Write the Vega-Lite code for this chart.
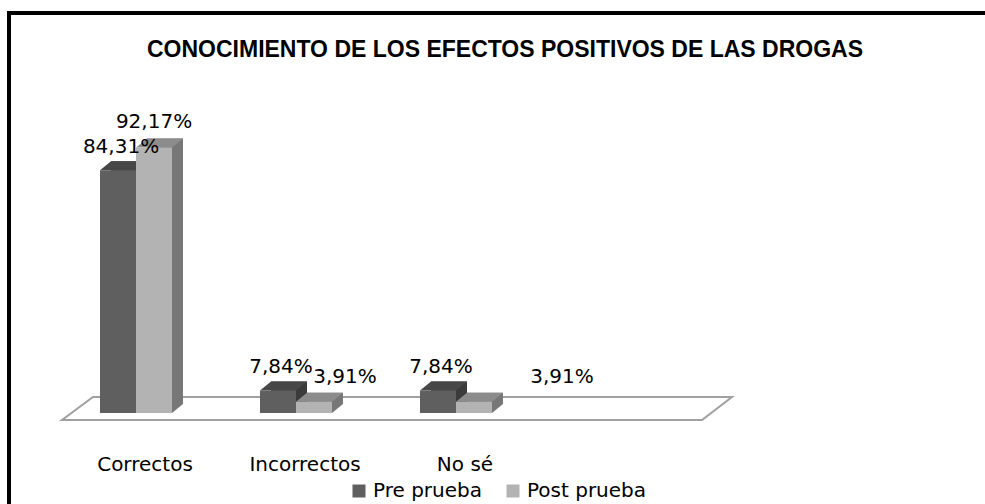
{
  "$schema": "https://vega.github.io/schema/vega-lite/v6.json",
  "width": 982,
  "height": 496,
  "autosize": {"type": "none"},
  "padding": {"left": 9, "top": 13, "right": -6, "bottom": -5},
  "background": "white",
  "config": {
    "view": {"stroke": "black", "strokeWidth": 4},
    "locale": {"number": {"decimal": ",", "thousands": ".", "grouping": [3], "currency": ["", " €"]}},
    "axisX": {
      "domain": false, "ticks": false, "tickSize": 0, "grid": false,
      "labelPadding": 0, "offset": -55, "labelOffset": 9,
      "labelFont": "DejaVu Sans", "labelFontSize": 20, "labelColor": "black", "labelAngle": 0
    }
  },
  "title": {
    "text": "CONOCIMIENTO DE LOS EFECTOS POSITIVOS DE LAS DROGAS",
    "font": "Liberation Sans", "fontSize": 23, "fontWeight": "bold", "color": "black",
    "anchor": "middle", "frame": "group", "baseline": "alphabetic", "offset": -67, "dx": 5
  },
  "data": {
    "values": [
      {"cat": "Correctos", "series": "Pre prueba", "value": 0.8431},
      {"cat": "Correctos", "series": "Post prueba", "value": 0.9217},
      {"cat": "Incorrectos", "series": "Pre prueba", "value": 0.0784},
      {"cat": "Incorrectos", "series": "Post prueba", "value": 0.0391},
      {"cat": "No sé", "series": "Pre prueba", "value": 0.0784},
      {"cat": "No sé", "series": "Post prueba", "value": 0.0391}
    ]
  },
  "resolve": {"scale": {"xOffset": "independent"}},
  "layer": [
    {
      "data": {"values": [{"elemento": "suelo"}]},
      "mark": {
        "type": "point", "shape": "M -0.5318 0.0159 L 0.9227 0.0159 L 0.9909 -0.0364 L -0.4614 -0.0364 Z",
        "size": 774400, "filled": true, "fill": "white", "stroke": "#a0a0a0", "strokeWidth": 2, "opacity": 1
      },
      "encoding": {
        "x": {"datum": "Incorrectos", "type": "nominal", "title": null},
        "y": {"datum": 0, "type": "quantitative", "axis": null}
      }
    },
    {
      "mark": {"type": "bar", "yOffset": -9},
      "encoding": {
        "x": {"field": "cat", "type": "nominal", "sort": ["Correctos", "Incorrectos", "No sé"], "title": null,
              "scale": {"range": [47, 527], "paddingInner": 0.55, "paddingOuter": 0.275}},
        "xOffset": {"field": "series", "type": "nominal", "scale": {"type": "band", "domain": ["Pre prueba", "Post prueba"], "range": [11, 83], "paddingInner": 0, "paddingOuter": 0}},
        "y": {"field": "value", "type": "quantitative", "scale": {"domain": [0, 1], "range": [400, 112], "nice": false}, "axis": null},
        "color": {"condition": {"test": "datum.series === 'Pre prueba'", "value": "#3b3b3b"}, "value": "#777777"}
      }
    },
    {
      "mark": {"type": "point", "shape": "M -0.5 0 L 0.5 0 L 0.8056 -0.25 L -0.1944 -0.25 Z", "size": 5184, "filled": true, "opacity": 1, "strokeWidth": 0},
      "encoding": {
        "x": {"field": "cat", "type": "nominal", "sort": ["Correctos", "Incorrectos", "No sé"], "title": null},
        "xOffset": {"field": "series", "type": "nominal", "scale": {"type": "point", "domain": ["Pre prueba", "Post prueba"], "range": [18, 54], "padding": 0}},
        "y": {"datum": 0, "type": "quantitative", "axis": null},
        "color": {"condition": {"test": "datum.series === 'Pre prueba'", "value": "#3b3b3b"}, "value": "#777777"}
      }
    },
    {
      "mark": {"type": "point", "shape": "M -0.5 0 L 0.5 0 L 0.8056 -0.25 L -0.1944 -0.25 Z", "size": 5184, "filled": true, "opacity": 1, "strokeWidth": 0},
      "encoding": {
        "x": {"field": "cat", "type": "nominal", "sort": ["Correctos", "Incorrectos", "No sé"], "title": null},
        "xOffset": {"field": "series", "type": "nominal", "scale": {"type": "point", "domain": ["Pre prueba", "Post prueba"], "range": [18, 54], "padding": 0}},
        "y": {"field": "value", "type": "quantitative", "axis": null},
        "color": {"condition": {"test": "datum.series === 'Pre prueba'", "value": "#474747"}, "value": "#8c8c8c"}
      }
    },
    {
      "mark": {"type": "bar"},
      "encoding": {
        "x": {"field": "cat", "type": "nominal", "sort": ["Correctos", "Incorrectos", "No sé"], "title": null},
        "xOffset": {"field": "series", "type": "nominal", "scale": {"type": "band", "domain": ["Pre prueba", "Post prueba"], "range": [0, 72], "paddingInner": 0, "paddingOuter": 0}},
        "y": {"field": "value", "type": "quantitative", "axis": null},
        "color": {
          "field": "series", "type": "nominal",
          "scale": {"domain": ["Pre prueba", "Post prueba"], "range": ["#5f5f5f", "#b3b3b3"]},
          "legend": {
            "orient": "none", "legendX": 340, "legendY": 468, "direction": "horizontal", "title": null,
            "symbolType": "square", "symbolSize": 169, "symbolStrokeWidth": 0, "symbolOpacity": 1,
            "labelFont": "DejaVu Sans", "labelFontSize": 20, "labelColor": "black",
            "labelOffset": 4, "columnPadding": 20, "padding": 0
          }
        }
      }
    },
    {
      "transform": [{"filter": "datum.series === 'Pre prueba'"}],
      "mark": {"type": "text", "font": "DejaVu Sans", "fontSize": 20, "color": "black", "baseline": "alphabetic", "align": "center", "dy": -17, "dx": 3},
      "encoding": {
        "x": {"field": "cat", "type": "nominal", "sort": ["Correctos", "Incorrectos", "No sé"], "title": null},
        "xOffset": {"field": "series", "type": "nominal", "scale": {"type": "point", "domain": ["Pre prueba", "Post prueba"], "range": [18, 54], "padding": 0}},
        "y": {"field": "value", "type": "quantitative", "axis": null},
        "text": {"field": "value", "type": "quantitative", "format": ".2%"}
      }
    },
    {
      "transform": [{"filter": "datum.series === 'Post prueba' && datum.cat === 'Correctos'"}],
      "mark": {"type": "text", "font": "DejaVu Sans", "fontSize": 20, "color": "black", "baseline": "alphabetic", "align": "center", "dy": -20, "dx": 0},
      "encoding": {
        "x": {"field": "cat", "type": "nominal", "sort": ["Correctos", "Incorrectos", "No sé"], "title": null},
        "xOffset": {"field": "series", "type": "nominal", "scale": {"type": "point", "domain": ["Pre prueba", "Post prueba"], "range": [18, 54], "padding": 0}},
        "y": {"field": "value", "type": "quantitative", "axis": null},
        "text": {"field": "value", "type": "quantitative", "format": ".2%"}
      }
    },
    {
      "transform": [{"filter": "datum.series === 'Post prueba' && datum.cat === 'Incorrectos'"}],
      "mark": {"type": "text", "font": "DejaVu Sans", "fontSize": 20, "color": "black", "baseline": "alphabetic", "align": "center", "dy": -19, "dx": 31},
      "encoding": {
        "x": {"field": "cat", "type": "nominal", "sort": ["Correctos", "Incorrectos", "No sé"], "title": null},
        "xOffset": {"field": "series", "type": "nominal", "scale": {"type": "point", "domain": ["Pre prueba", "Post prueba"], "range": [18, 54], "padding": 0}},
        "y": {"field": "value", "type": "quantitative", "axis": null},
        "text": {"field": "value", "type": "quantitative", "format": ".2%"}
      }
    },
    {
      "transform": [{"filter": "datum.series === 'Post prueba' && datum.cat === 'No sé'"}],
      "mark": {"type": "text", "font": "DejaVu Sans", "fontSize": 20, "color": "black", "baseline": "alphabetic", "align": "center", "dy": -19, "dx": 88},
      "encoding": {
        "x": {"field": "cat", "type": "nominal", "sort": ["Correctos", "Incorrectos", "No sé"], "title": null},
        "xOffset": {"field": "series", "type": "nominal", "scale": {"type": "point", "domain": ["Pre prueba", "Post prueba"], "range": [18, 54], "padding": 0}},
        "y": {"field": "value", "type": "quantitative", "axis": null},
        "text": {"field": "value", "type": "quantitative", "format": ".2%"}
      }
    }
  ]
}
